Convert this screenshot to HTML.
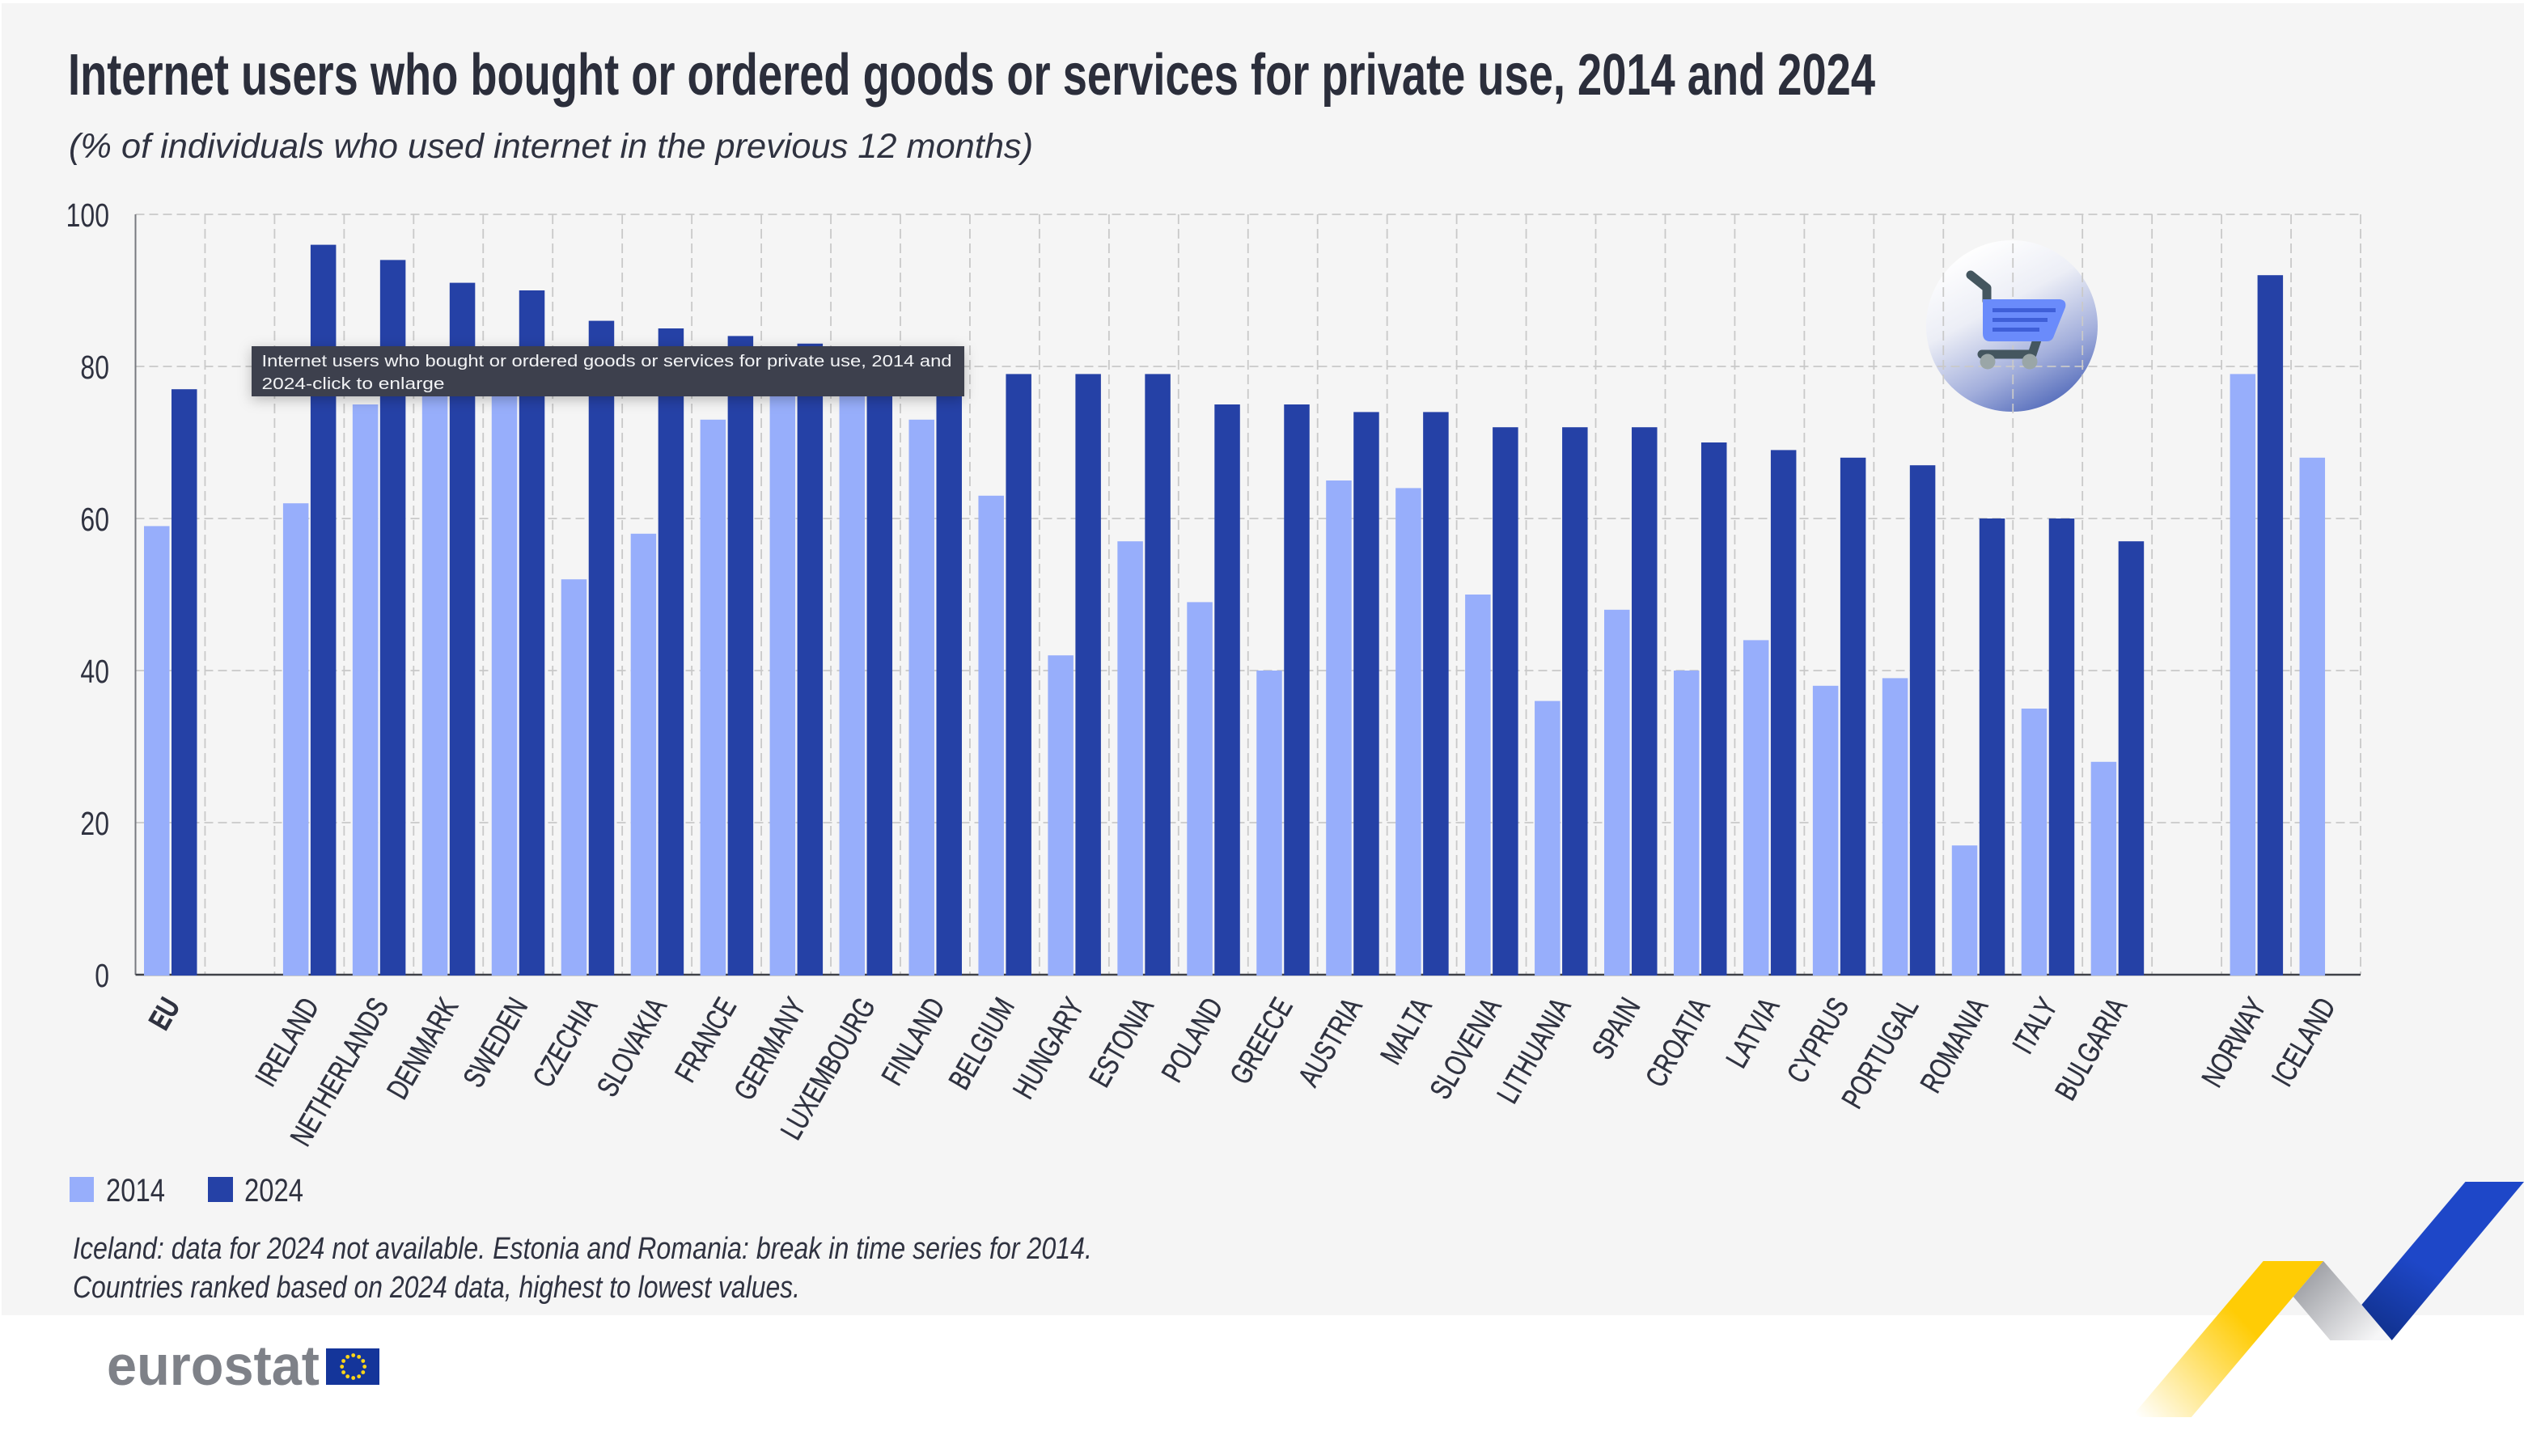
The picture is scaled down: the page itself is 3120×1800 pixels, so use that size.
<!DOCTYPE html>
<html lang="en">
<head>
<meta charset="utf-8">
<title>Internet users who bought or ordered goods or services for private use, 2014 and 2024</title>
<style>
html,body{margin:0;padding:0;background:#fff;width:3120px;height:1800px;overflow:hidden}
svg{display:block;font-family:"Liberation Sans",sans-serif}
</style>
</head>
<body>
<svg id="chart" width="3120" height="1800" viewBox="0 0 3120 1800" xmlns="http://www.w3.org/2000/svg">
  <defs>
    <linearGradient id="circleGrad" x1="0.25" y1="0.05" x2="0.75" y2="1">
      <stop offset="0" stop-color="#ffffff"/>
      <stop offset="0.35" stop-color="#eceef6"/>
      <stop offset="0.7" stop-color="#a3afdc"/>
      <stop offset="1" stop-color="#4d66b8"/>
    </linearGradient>
    <linearGradient id="blueGrad" gradientUnits="userSpaceOnUse" x1="3040" y1="1500" x2="2950" y2="1650">
      <stop offset="0.45" stop-color="#1e47c8"/>
      <stop offset="1" stop-color="#113290"/>
    </linearGradient>
    <linearGradient id="grayGrad" gradientUnits="userSpaceOnUse" x1="2840" y1="1570" x2="2930" y2="1660">
      <stop offset="0" stop-color="#96989e"/>
      <stop offset="1" stop-color="#f6f6f7"/>
    </linearGradient>
    <linearGradient id="yellowGrad" gradientUnits="userSpaceOnUse" x1="2780" y1="1640" x2="2650" y2="1760">
      <stop offset="0" stop-color="#ffcc05"/>
      <stop offset="1" stop-color="#ffcc05" stop-opacity="0"/>
    </linearGradient>
    <filter id="tipShadow" x="-5%" y="-30%" width="110%" height="170%">
      <feDropShadow dx="0" dy="4" stdDeviation="8" flood-color="#000" flood-opacity="0.25"/>
    </filter>
  </defs>

  <rect x="2" y="4" width="3118" height="1622" fill="#f5f5f5"/>

  <text x="84" y="117" font-size="72" font-weight="700" fill="#2b2e3b" textLength="2234" lengthAdjust="spacingAndGlyphs">Internet users who bought or ordered goods or services for private use, 2014 and 2024</text>
  <text x="85" y="195" font-size="43" font-style="italic" fill="#2f3240" textLength="1192" lengthAdjust="spacingAndGlyphs">(% of individuals who used internet in the previous 12 months)</text>

  <circle cx="2487" cy="403" r="106" fill="url(#circleGrad)"/>

  <g id="grid"></g>

  <g>
    <path d="M2436 340 L2456 356 L2456 372" fill="none" stroke="#44565f" stroke-width="11" stroke-linecap="round" stroke-linejoin="round"/>
    <path d="M2518 420 L2512 438 L2450 438" fill="none" stroke="#44565f" stroke-width="11" stroke-linecap="round" stroke-linejoin="round"/>
    <path d="M2451 370 L2546 370 Q2555 371 2553 380 L2539 415 Q2537 422 2530 422 L2460 422 Q2451 422 2451 412 Z" fill="#6a8bfb"/>
    <rect x="2463" y="381" width="78" height="5" fill="#3f5fd8"/>
    <rect x="2463" y="393" width="68" height="5" fill="#3f5fd8"/>
    <rect x="2463" y="405" width="58" height="5" fill="#3f5fd8"/>
    <circle cx="2457" cy="447" r="9.500" fill="#9aa6a7"/>
    <circle cx="2509" cy="447" r="9.500" fill="#9aa6a7"/>
  </g>

  <g id="axes"></g>
  <g id="bars"></g>
  <g id="ylabels"></g>
  <g id="xlabels"></g>

  <g>
    <g>
      <rect x="86" y="1455" width="30" height="31" fill="#97aefb"/>
      <text x="131" y="1485" font-size="40" fill="#2f3240" textLength="73" lengthAdjust="spacingAndGlyphs">2014</text>
    </g>
    <g>
      <rect x="257" y="1455" width="31" height="31" fill="#2541a6"/>
      <text x="302" y="1485" font-size="40" fill="#2f3240" textLength="73" lengthAdjust="spacingAndGlyphs">2024</text>
    </g>
  </g>

  <text x="90" y="1556" font-size="38" font-style="italic" fill="#2f3240" textLength="1260" lengthAdjust="spacingAndGlyphs">Iceland: data for 2024 not available. Estonia and Romania: break in time series for 2014.</text>
  <text x="90" y="1604" font-size="38" font-style="italic" fill="#2f3240" textLength="899" lengthAdjust="spacingAndGlyphs">Countries ranked based on 2024 data, highest to lowest values.</text>

  <g>
    <text x="132" y="1712" font-size="70" font-weight="700" fill="#7e8188" textLength="263" lengthAdjust="spacingAndGlyphs">eurostat</text>
    <rect x="403" y="1667" width="66" height="45" fill="#14359a"/>
    <g id="stars"></g>
  </g>

  <g>
    <polygon points="2872,1559 2957,1657 2880.500,1657 2834.800,1603" fill="url(#grayGrad)"/>
    <polygon points="3047.500,1461 3120,1461 2956.700,1657 2919.300,1613" fill="url(#blueGrad)"/>
    <polygon points="2797.700,1559 2872,1559 2708.800,1752 2634.400,1752" fill="url(#yellowGrad)"/>
  </g>

  <g>
    <rect x="311" y="428" width="881" height="62" fill="#3d414d" filter="url(#tipShadow)"/>
    <text x="323.500" y="453" font-size="20.500" fill="#f2f3f5" textLength="853" lengthAdjust="spacingAndGlyphs">Internet users who bought or ordered goods or services for private use, 2014 and</text>
    <text x="323.500" y="481" font-size="20.500" fill="#f2f3f5" textLength="226" lengthAdjust="spacingAndGlyphs">2024-click to enlarge</text>
  </g>
</svg>

<script>
const categories = ["EU","","IRELAND","NETHERLANDS","DENMARK","SWEDEN","CZECHIA","SLOVAKIA","FRANCE","GERMANY","LUXEMBOURG","FINLAND","BELGIUM","HUNGARY","ESTONIA","POLAND","GREECE","AUSTRIA","MALTA","SLOVENIA","LITHUANIA","SPAIN","CROATIA","LATVIA","CYPRUS","PORTUGAL","ROMANIA","ITALY","BULGARIA","","NORWAY","ICELAND"];
const values2014 = [59,null,62,75,79,78,52,58,73,77,78,73,63,42,57,49,40,65,64,50,36,48,40,44,38,39,17,35,28,null,79,68];
const values2024 = [77,null,96,94,91,90,86,85,84,83,81,80,79,79,79,75,75,74,74,72,72,72,70,69,68,67,60,60,57,null,92,null];
const yTicks = [0,20,40,60,80,100];

const NS = 'http://www.w3.org/2000/svg';
const plotLeft = 167.5, plotRight = 2918, plotTop = 265, plotBottom = 1205, yMax = 100;
const slotW = (plotRight - plotLeft) / categories.length;
function xSlot(i) { return plotLeft + i * slotW; }
function yVal(v) { return plotBottom - (v / yMax) * (plotBottom - plotTop); }
function mk(tag, parentId) {
  const el = document.createElementNS(NS, tag);
  document.getElementById(parentId).appendChild(el);
  return el;
}

/* gridlines */
yTicks.forEach(function (t) {
  if (t === 0) return;
  const l = mk('line', 'grid');
  
  
  l.setAttribute('x1', plotLeft);
  l.setAttribute('x2', plotRight);
  l.setAttribute('y1', yVal(t));
  l.setAttribute('y2', yVal(t));
  l.setAttribute('stroke', '#c9c9c9');
  l.setAttribute('stroke-width', '1.800');
  l.setAttribute('stroke-dasharray', '11 6');
});
categories.forEach(function (c, i) {
  const l = mk('line', 'grid');
  
  
  l.setAttribute('x1', xSlot(i + 1));
  l.setAttribute('x2', xSlot(i + 1));
  l.setAttribute('y1', plotTop);
  l.setAttribute('y2', plotBottom);
  l.setAttribute('stroke', '#c9c9c9');
  l.setAttribute('stroke-width', '1.800');
  l.setAttribute('stroke-dasharray', '12 6');
});

/* axes */
const yAxis = mk('line', 'axes');


yAxis.setAttribute('x1', plotLeft);
yAxis.setAttribute('x2', plotLeft);
yAxis.setAttribute('y1', plotTop);
yAxis.setAttribute('y2', plotBottom);
yAxis.setAttribute('stroke', '#77797f');
yAxis.setAttribute('stroke-width', '2');
const xAxis = mk('line', 'axes');


xAxis.setAttribute('x1', plotLeft);
xAxis.setAttribute('x2', plotRight);
xAxis.setAttribute('y1', plotBottom);
xAxis.setAttribute('y2', plotBottom);
xAxis.setAttribute('stroke', '#3f4148');
xAxis.setAttribute('stroke-width', '2.500');

/* bars */
const barW = 31.5, off2014 = 10.5, off2024 = 44.5;
categories.forEach(function (c, i) {
  if (values2014[i] !== null) {
    const r = mk('rect', 'bars');
    
    
    r.setAttribute('x', xSlot(i) + off2014);
    r.setAttribute('y', yVal(values2014[i]));
    r.setAttribute('width', barW);
    r.setAttribute('height', plotBottom + 1 - yVal(values2014[i]));
    r.setAttribute('fill', '#97aefb');
  }
  if (values2024[i] !== null) {
    const r = mk('rect', 'bars');
    
    
    r.setAttribute('x', xSlot(i) + off2024);
    r.setAttribute('y', yVal(values2024[i]));
    r.setAttribute('width', barW);
    r.setAttribute('height', plotBottom + 1 - yVal(values2024[i]));
    r.setAttribute('fill', '#2541a6');
  }
});

/* y tick labels */
yTicks.forEach(function (t) {
  const el = mk('text', 'ylabels');
  
  
  el.setAttribute('transform', 'translate(135,' + (yVal(t) + 15) + ') scale(0.78,1)');
  el.setAttribute('text-anchor', 'end');
  el.setAttribute('font-size', '41');
  el.setAttribute('fill', '#2f3240');
  el.textContent = t;
});

/* category labels */
categories.forEach(function (c, i) {
  if (!c) return;
  const cx = xSlot(i) + slotW / 2;
  const el = mk('text', 'xlabels');
  
  
  el.setAttribute('transform', 'translate(' + (cx + 13) + ',1243) rotate(-60) scale(0.74,1)');
  el.setAttribute('text-anchor', 'end');
  el.setAttribute('font-size', '37');
  el.setAttribute('font-weight', c === 'EU' ? '700' : '400');
  el.setAttribute('stroke', '#2f3240');
  el.setAttribute('stroke-width', '0.500');
  el.setAttribute('fill', '#2f3240');
  el.textContent = c;
});

/* EU flag stars (decorative ring) */
for (let k = 0; k < 12; k++) {
  const a = k * Math.PI / 6;
  const s = mk('circle', 'stars');
  
  
  s.setAttribute('cx', 436.7 + 14 * Math.sin(a));
  s.setAttribute('cy', 1689.5 - 14 * Math.cos(a));
  s.setAttribute('r', '2.400');
  s.setAttribute('fill', '#ffd617');
}
</script>
</body>
</html>
